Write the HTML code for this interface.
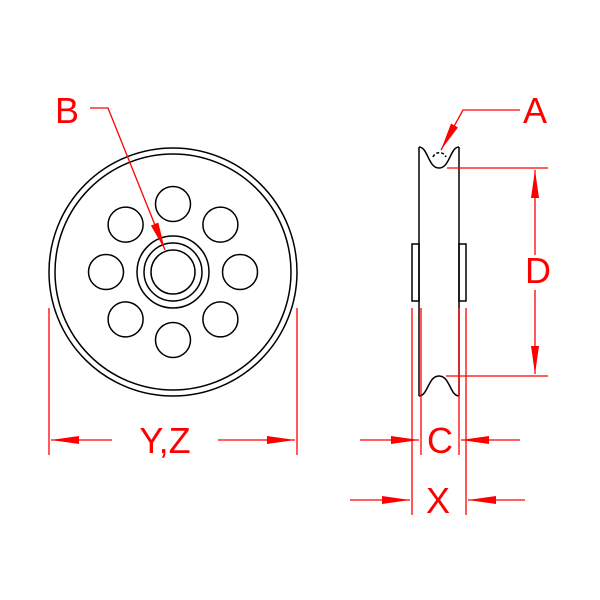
<html><body style="margin:0;background:#fff">
<svg width="600" height="600" xmlns="http://www.w3.org/2000/svg" font-family="Liberation Sans, sans-serif">
<defs><marker id="ar" markerWidth="10" markerHeight="6" refX="10" refY="3" orient="auto" markerUnits="userSpaceOnUse" viewBox="0 0 10 6"><path d="M0,0L10,3L0,6z" fill="red"/></marker>
<marker id="a2" markerWidth="28" markerHeight="8" refX="28" refY="4" orient="auto" markerUnits="userSpaceOnUse"><path d="M0,0L28,4L0,8z" fill="red"/></marker></defs>
<g fill="none" stroke="#000" stroke-width="1.5">
<circle cx="173" cy="272" r="124"/><circle cx="173" cy="272" r="118"/>
<circle cx="173" cy="272" r="36"/><circle cx="173" cy="272" r="29"/><circle cx="173" cy="272" r="22"/>
<circle cx="173" cy="204" r="17.5"/><circle cx="173" cy="340" r="17.5"/>
<circle cx="106" cy="272" r="17.5"/><circle cx="240" cy="272" r="17.5"/>
<circle cx="125.6" cy="224.6" r="17.5"/><circle cx="220.4" cy="224.6" r="17.5"/>
<circle cx="125.6" cy="319.4" r="17.5"/><circle cx="220.4" cy="319.4" r="17.5"/>
<path d="M419,147 V396 M459,147 V396"/>
<path d="M419,147 C428,147 428,168 439,168 C450,168 450,147 459,147"/>
<path d="M419,396 C428,396 428,376 439,376 C450,376 450,396 459,396"/>
<path d="M433,157 A7,7 0 0 1 446,157" stroke-dasharray="3,2"/>
<rect x="412" y="244" width="7" height="57"/><rect x="459" y="244" width="7" height="57"/>
</g>
<g stroke="red" stroke-width="1.3" fill="none">
<path d="M90,108H108L165,250" marker-end="url(#a2)"/>
<path d="M520,110H463L441,150" marker-end="url(#a2)"/>
<path d="M447,168H548M446,376H548"/>
<path d="M535,255V170" marker-end="url(#a2)"/><path d="M535,290V374" marker-end="url(#a2)"/>
<path d="M49,308V455M297,308V455"/>
<path d="M112,440H51" marker-end="url(#a2)"/><path d="M218,440H295" marker-end="url(#a2)"/>
<path d="M412,308V515M421,308V455M459,308V455M466,308V515"/>
<path d="M360,440H419" marker-end="url(#a2)"/><path d="M520,440H461" marker-end="url(#a2)"/>
<path d="M350,500H410" marker-end="url(#a2)"/><path d="M525,500H468" marker-end="url(#a2)"/>
</g>
<g fill="red" font-size="36" text-anchor="middle">
<text x="67" y="123">B</text><text x="535" y="123">A</text>
<text x="538" y="283">D</text><text x="165" y="453">Y,Z</text>
<text x="440" y="453">C</text><text x="438" y="513">X</text>
</g>
</svg></body></html>
